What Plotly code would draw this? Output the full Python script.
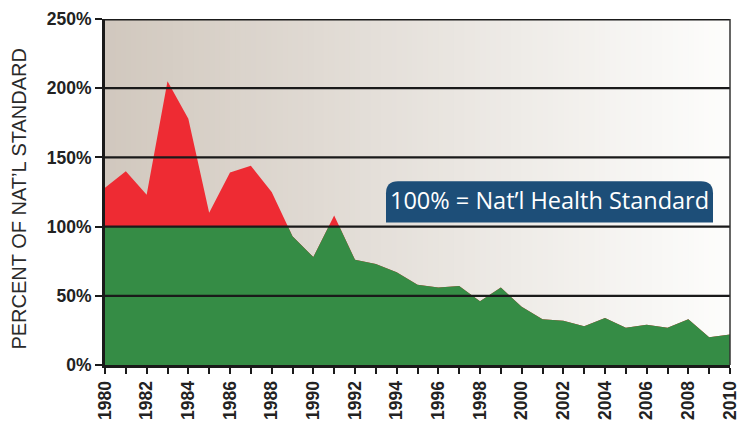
import plotly.graph_objects as go

# ---- data ----
years = list(range(1980, 2011))
percent_of_standard = [128, 140, 123, 205, 178, 110, 139, 144, 125, 93, 78, 108,
                       76, 73, 67, 58, 56, 57, 46, 56, 42, 33, 32, 28, 34, 27,
                       29, 27, 33, 20, 22]
standard_level = 100
y_ticks = [0, 50, 100, 150, 200, 250]
y_tick_labels = ["0%", "50%", "100%", "150%", "200%", "250%"]
x_tick_labels = [str(y) if y % 2 == 0 else "" for y in years]
annotation_text = "100% = Nat\u2019l Health Standard"
y_title = "PERCENT OF NAT\u2019L STANDARD"

RED = "#ee2b33"
GREEN = "#358c45"
BOLDF = "Liberation Sans, Arial, sans-serif"

fig = go.Figure()

# red: full values (visible only above standard)
fig.add_trace(go.Scatter(x=years, y=percent_of_standard, mode="lines",
                         line=dict(width=0, color=RED), fill="tozeroy",
                         fillcolor=RED, hoverinfo="skip", showlegend=False,
                         xaxis="x", yaxis="y"))
# green: same values on an axis clipped at the standard level
fig.add_trace(go.Scatter(x=years, y=percent_of_standard, mode="lines",
                         line=dict(width=0, color=GREEN), fill="tozeroy",
                         fillcolor=GREEN, hoverinfo="skip", showlegend=False,
                         xaxis="x", yaxis="y2"))

shapes = []
# horizontal gradient background
n = 120
c0 = (209, 200, 190)
c1 = (253, 253, 252)
for i in range(n):
    t = i / (n - 1)
    c = tuple(round(c0[k] + (c1[k] - c0[k]) * t) for k in range(3))
    shapes.append(dict(type="rect", xref="paper", yref="paper",
                       x0=i / n, x1=(i + 1) / n + 0.002, y0=0, y1=1,
                       fillcolor="rgb(%d,%d,%d)" % c, line=dict(width=0),
                       layer="below"))
# gridlines above fills
for v in y_ticks[1:]:
    shapes.append(dict(type="line", xref="paper", yref="y", x0=0, x1=1,
                       y0=v, y1=v, line=dict(color="#1a1a1a",
                                             width=3 if v == 250 else 2.2),
                       layer="above"))
# right border
shapes.append(dict(type="line", xref="paper", yref="paper", x0=1, x1=1,
                   y0=0, y1=1, line=dict(color="#333333", width=1.5),
                   layer="above"))
# rounded label box (top corners rounded)
bx0, bx1, by0, by1 = 0.4496, 0.9728, 0.4115, 0.5314
rx, ry = 0.0192, 0.0347
path = (f"M {bx0},{by0} L {bx0},{by1-ry} Q {bx0},{by1} {bx0+rx},{by1} "
        f"L {bx1-rx},{by1} Q {bx1},{by1} {bx1},{by1-ry} L {bx1},{by0} Z")
shapes.append(dict(type="path", xref="paper", yref="paper", path=path,
                   fillcolor="#1d4e78", line=dict(width=0), layer="above"))

annotations = [
    dict(text=annotation_text, xref="paper", yref="paper",
         x=(bx0 + bx1) / 2, y=(by0 + by1) / 2 + 0.004, showarrow=False,
         font=dict(family="Open Sans, Noto Sans, sans-serif", size=23.5,
                   color="white"), xanchor="center", yanchor="middle"),
    dict(text=y_title, xref="paper", yref="paper", x=-0.1376, y=0.481,
         textangle=-90, showarrow=False, xanchor="center", yanchor="middle",
         font=dict(family="Liberation Sans, Arial, sans-serif", size=20,
                   color="#2a2a2a")),
]

fig.update_layout(
    width=753, height=424,
    margin=dict(l=97, r=31, t=11, b=67),
    paper_bgcolor="white", plot_bgcolor="rgba(0,0,0,0)",
    shapes=shapes, annotations=annotations, showlegend=False,
    xaxis=dict(range=[1980, 2010], tickmode="array", tickvals=years,
               ticktext=x_tick_labels, tickangle=-90, ticks="outside",
               ticklen=6, tickwidth=2, tickcolor="#1a1a1a", automargin=False,
               showgrid=False, zeroline=False, showline=True,
               linecolor="#1a1a1a", linewidth=3,
               tickfont=dict(family=BOLDF, size=17.5, color="#222222",
                             weight="bold")),
    yaxis=dict(range=[0, 250], tickmode="array", tickvals=y_ticks,
               ticktext=y_tick_labels, ticks="outside", ticklen=7,
               tickwidth=2, tickcolor="#1a1a1a", showgrid=False,
               zeroline=False, showline=True, linecolor="#1a1a1a",
               linewidth=3, domain=[0, 1], automargin=False,
               tickfont=dict(family=BOLDF, size=17.5, color="#222222",
                             weight="bold")),
    yaxis2=dict(range=[0, standard_level], domain=[0, standard_level / 250],
                anchor="x", showgrid=False, zeroline=False, automargin=False,
                showticklabels=False, showline=False, ticks=""),
)

fig.write_html("out.html")
